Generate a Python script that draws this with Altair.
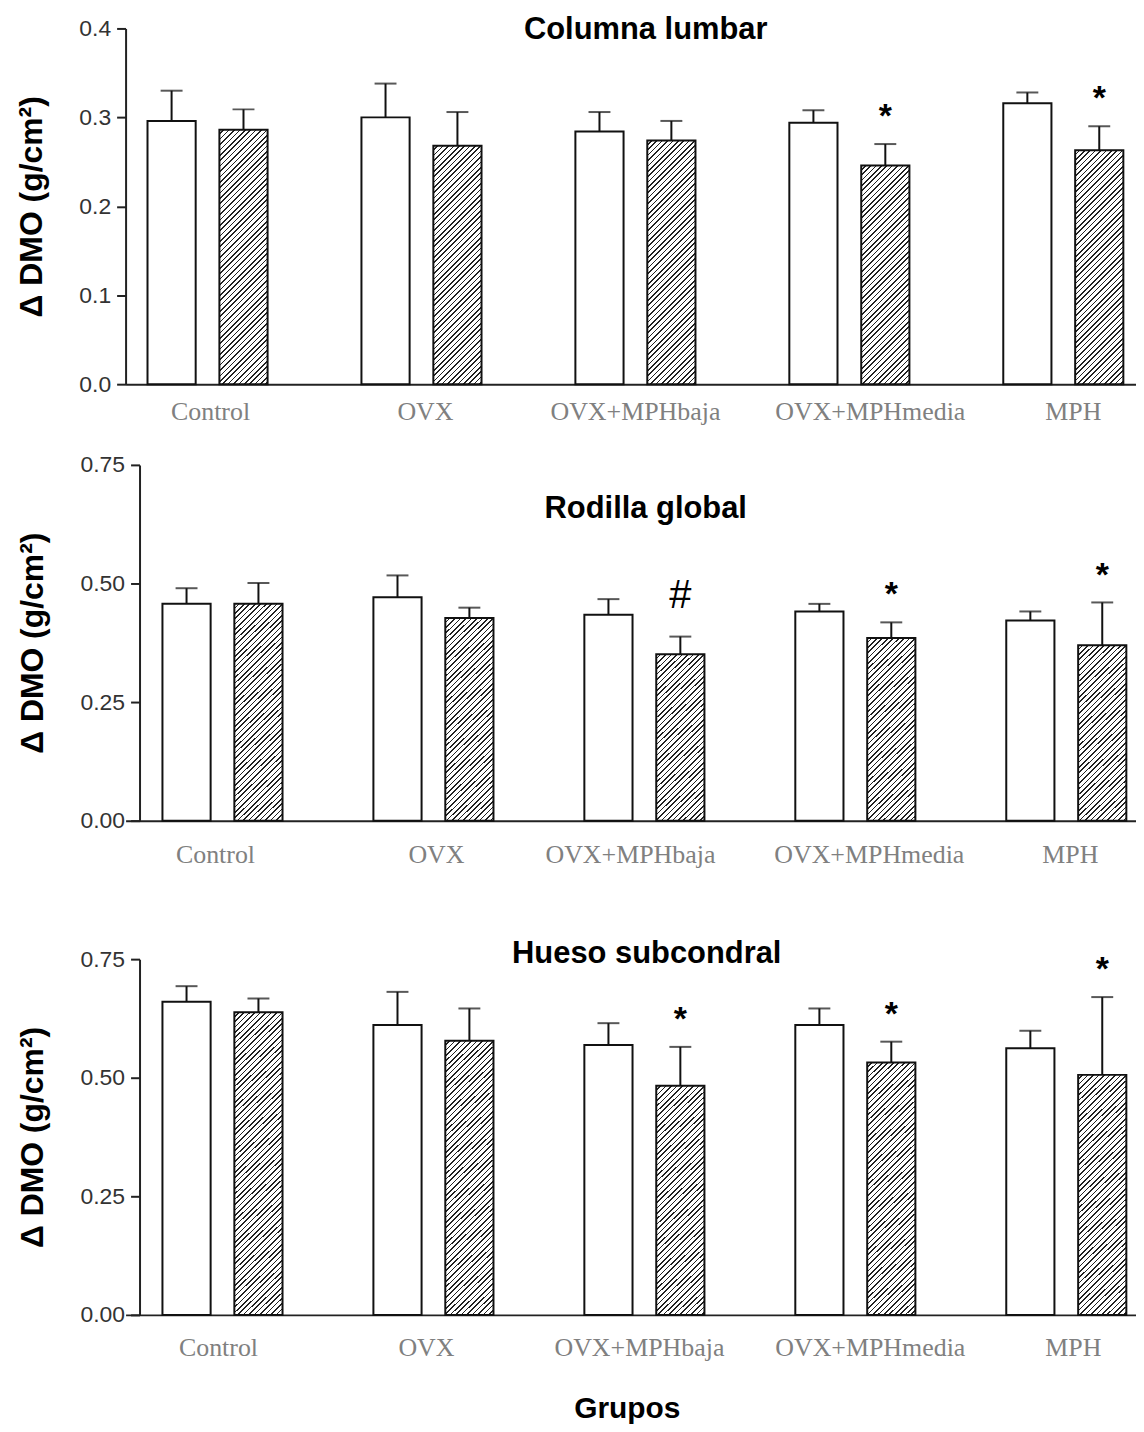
import math
import altair as alt

# ---------------- data ----------------
groups = ["Control", "OVX", "OVX+MPHbaja", "OVX+MPHmedia", "MPH"]
series = ["blanca", "rayada"]

lumbar_white = [0.296, 0.300, 0.284, 0.294, 0.316]
lumbar_white_err = [0.034, 0.038, 0.022, 0.014, 0.012]
lumbar_hatch = [0.286, 0.268, 0.274, 0.246, 0.263]
lumbar_hatch_err = [0.023, 0.038, 0.022, 0.024, 0.027]
lumbar_marks = ["", "", "", "*", "*"]

rodilla_white = [0.457, 0.471, 0.434, 0.441, 0.422]
rodilla_white_err = [0.033, 0.046, 0.033, 0.016, 0.019]
rodilla_hatch = [0.457, 0.427, 0.351, 0.385, 0.370]
rodilla_hatch_err = [0.044, 0.022, 0.037, 0.033, 0.090]
rodilla_marks = ["", "", "#", "*", "*"]

hueso_white = [0.660, 0.611, 0.569, 0.611, 0.562]
hueso_white_err = [0.033, 0.070, 0.046, 0.035, 0.037]
hueso_hatch = [0.638, 0.578, 0.483, 0.532, 0.506]
hueso_hatch_err = [0.029, 0.068, 0.082, 0.044, 0.164]
hueso_marks = ["", "", "*", "*", "*"]

ticks_lumbar = [0.0, 0.1, 0.2, 0.3, 0.4]
ticks_knee = [0.0, 0.25, 0.5, 0.75]

# ---------------- styling ----------------
SANS = "Liberation Sans"
SERIF = "Liberation Serif"
PLOT_W = 1014
PLOT_H = 357
OPI = 0.33                           # padding between the two bars of a group
YTITLE = "\u0394 DMO (g/cm\u00b2)"


def band_params(width, step, group_w, first):
    n = len(groups)
    pi = 1 - group_w / step
    po = (width / step - (n - pi)) / 2
    leftover = width - step * (n - pi)
    return pi, po, first / leftover


def bar_width(group_w):
    return group_w / (len(series) - OPI) * (1 - OPI)


def hatch_fill(w, h, period=5.4, ink_frac=0.3, ink="#222"):
    """Diagonal '/' hatching made of a hard-stop linear gradient (bbox units)."""
    total = w + h
    n = int(math.ceil(total / period))
    stops = []
    for k in range(n):
        a = min(1.0, k * period / total)
        b = min(1.0, (k + 1 - ink_frac) * period / total)
        c = min(1.0, (k + 1) * period / total)
        stops += [{"offset": a, "color": "white"}, {"offset": b, "color": "white"},
                  {"offset": b, "color": ink}, {"offset": c, "color": ink}]
    d = w * w + h * h
    return {"gradient": "linear", "x1": 0, "y1": 0,
            "x2": (w + h) * w / d, "y2": (w + h) * h / d, "stops": stops}


def label_shift(shifts):
    return {"condition": [{"test": "datum.value == '%s'" % g, "value": s}
                          for g, s in zip(groups, shifts) if s != 0],
            "value": 0}


def panel(title, tdx, toff, white, werr, hatch, herr, marks, ymax, yticks, yfmt,
          step, group_w, first, yoff, ytp, xlp, lshift,
          xtitle=None, xtitle_size=10, xtitle_pad=0, xtitle_x=None):
    pi, po, al = band_params(PLOT_W, step, group_w, first)
    bw = bar_width(group_w)
    rows = []
    for i, g in enumerate(groups):
        rows.append({"grupo": g, "serie": series[0], "media": white[i],
                     "sup": white[i] + werr[i], "relleno": "white", "marca": ""})
        rows.append({"grupo": g, "serie": series[1], "media": hatch[i],
                     "sup": hatch[i] + herr[i],
                     "relleno": hatch_fill(bw, hatch[i] / ymax * PLOT_H),
                     "marca": marks[i]})
    base = alt.Chart(alt.Data(values=rows))

    xaxis_kw = dict(labelAngle=0, labelFont=SERIF, labelFontSize=26, labelColor="#808080",
                    labelPadding=xlp, ticks=False, tickSize=0, domainWidth=2,
                    domainColor="#222", labelLimit=400, labelOffset=label_shift(lshift))
    if xtitle is None:
        xaxis = alt.Axis(title=None, **xaxis_kw)
    else:
        extra = {}
        if xtitle_x is not None:
            extra["titleX"] = xtitle_x
        xaxis = alt.Axis(title=xtitle, titleFont=SANS, titleFontSize=xtitle_size,
                         titleFontWeight="bold", titleColor="black",
                         titlePadding=xtitle_pad, **extra, **xaxis_kw)
    x = alt.X("grupo:N", sort=groups,
              scale=alt.Scale(domain=groups, paddingInner=pi, paddingOuter=po, align=al),
              axis=xaxis)
    xo = alt.XOffset("serie:N", sort=series,
                     scale=alt.Scale(domain=series, paddingInner=OPI, paddingOuter=0))
    y = alt.Y("media:Q", scale=alt.Scale(domain=[0, ymax], nice=False, zero=True),
              axis=alt.Axis(values=yticks, format=yfmt, title=YTITLE, titleFont=SANS,
                            titleFontSize=32, titleFontWeight="bold", titleColor="black",
                            titlePadding=ytp, labelFont=SANS, labelFontSize=23,
                            labelColor="#333", labelPadding=6, tickSize=9, tickWidth=2,
                            tickColor="#222", domainWidth=2, domainColor="#222",
                            grid=False, offset=yoff))

    bars = base.mark_bar(stroke="#111", strokeWidth=2).encode(
        x=x, xOffset=xo, y=y, fill=alt.Fill("relleno:N", scale=None))
    err = base.mark_rule(color="#111", strokeWidth=2).encode(
        x=x, xOffset=xo, y="media:Q", y2="sup:Q")
    cap = base.mark_tick(color="#111", thickness=2, size=22, orient="horizontal").encode(
        x=x, xOffset=xo, y="sup:Q")
    stars = base.transform_filter(alt.datum.marca == "*").mark_text(
        font=SANS, fontSize=34, fontWeight="bold", color="black",
        baseline="alphabetic", dy=-17).encode(x=x, xOffset=xo, y="sup:Q", text="marca:N")
    hashes = base.transform_filter(alt.datum.marca == "#").mark_text(
        font=SANS, fontSize=40, color="black",
        baseline="alphabetic", dy=-29).encode(x=x, xOffset=xo, y="sup:Q", text="marca:N")

    return alt.layer(bars, err, cap, stars, hashes).properties(
        width=PLOT_W, height=PLOT_H,
        title=alt.TitleParams(title, font=SANS, fontSize=31, fontWeight="bold",
                              color="black", anchor="middle", baseline="alphabetic",
                              offset=toff, dx=tdx))


p1 = panel("Columna lumbar", 15, -53, lumbar_white, lumbar_white_err, lumbar_hatch,
           lumbar_hatch_err, lumbar_marks, 0.4, ticks_lumbar, ".1f",
           214.7, 120.5, 22, 0, 30, 14, [3, 4, 0, 21, 10])
p2 = panel("Rodilla global", 15, -95, rodilla_white, rodilla_white_err, rodilla_hatch,
           rodilla_hatch_err, rodilla_marks, 0.75, ticks_knee, ".2f",
           211.7, 118.5, 37, -14, 31, 21, [-6, 4, -13, 15, 5],
           xtitle="\u00a0", xtitle_size=10, xtitle_pad=31)
p3 = panel("Hueso subcondral", 16, -46, hueso_white, hueso_white_err, hueso_hatch,
           hueso_hatch_err, hueso_marks, 0.75, ticks_knee, ".2f",
           211.7, 118.5, 37, -14, 31, 20, [-3, -6, -4, 16, 8],
           xtitle="Grupos", xtitle_size=30, xtitle_pad=33, xtitle_x=503)

chart = alt.concat(p1, p2, p3, columns=1, spacing=30).properties(
    padding={"left": 8, "top": 4, "right": 0, "bottom": 0}
).configure_view(stroke=None)

chart.save("out.html", embed_options={"renderer": "svg", "actions": False})
